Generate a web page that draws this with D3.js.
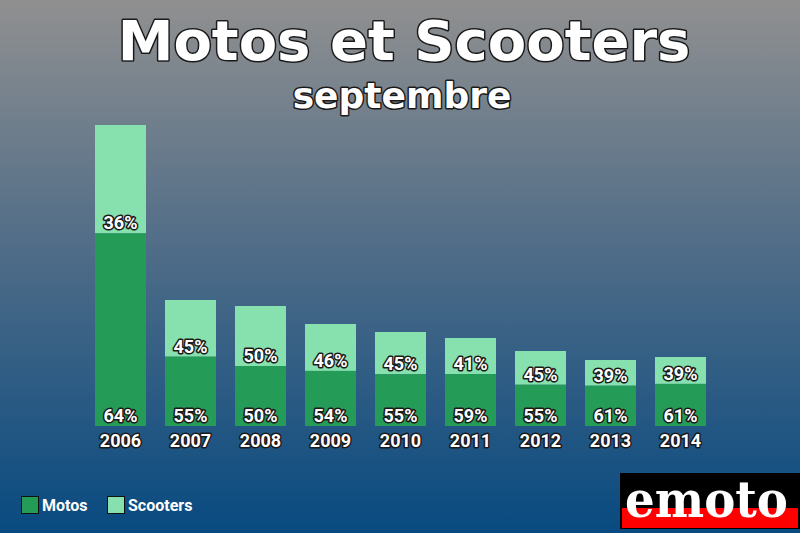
<!DOCTYPE html>
<html><head><meta charset="utf-8">
<script src="https://cdn.jsdelivr.net/npm/d3@7"></script>
<style>html,body{margin:0;padding:0;overflow:hidden;}</style>
</head><body>
<script>
const years = ["2006","2007","2008","2009","2010","2011","2012","2013","2014"];
const totals = [301, 126, 120, 102, 94, 88, 75, 66, 69];
const motosPct = [64, 55, 50, 54, 55, 59, 55, 61, 61];
const scootersPct = [36, 45, 50, 46, 45, 41, 45, 39, 39];
const seriesNames = ["Motos", "Scooters"];
const colors = ["#259b58", "#86e1ae"];

const W = 800, H = 533;
const svg = d3.select("body").append("svg").attr("width", W).attr("height", H);
const defs = svg.append("defs");
const grad = defs.append("linearGradient").attr("id","bg").attr("x1",0).attr("y1",0).attr("x2",0).attr("y2",1);
grad.append("stop").attr("offset","0%").attr("stop-color","#909090");
grad.append("stop").attr("offset","50%").attr("stop-color","#4b6a87");
grad.append("stop").attr("offset","100%").attr("stop-color","#084a80");
svg.append("rect").attr("width",W).attr("height",H).attr("fill","url(#bg)");

const x = d3.scaleBand().domain(years).range([95, 706]).paddingInner(0.2714).paddingOuter(0);
const y = d3.scaleLinear().domain([0, d3.max(totals)]).range([426, 125]);

const data = years.map((yr,i)=>{
  const m = totals[i]*motosPct[i]/100;
  return {yr, m, t: totals[i], mp: motosPct[i], sp: scootersPct[i]};
});

const g = svg.append("g");
g.selectAll(".sc").data(data).join("rect")
  .attr("x", d=>x(d.yr)).attr("width", x.bandwidth())
  .attr("y", d=>y(d.t)).attr("height", d=>y(d.m)-y(d.t))
  .attr("fill", colors[1]);
g.selectAll(".mo").data(data).join("rect")
  .attr("x", d=>x(d.yr)).attr("width", x.bandwidth())
  .attr("y", d=>y(d.m)).attr("height", d=>y(0)-y(d.m))
  .attr("fill", colors[0]);

function outlined(sel){
  return sel.attr("fill","#fff").attr("stroke","#1a1a1a").attr("stroke-width",3)
    .attr("paint-order","stroke").attr("stroke-linejoin","round");
}
const lblFont = "Roboto, sans-serif";
outlined(g.selectAll(".lm").data(data).join("text")
  .attr("x", d=>x(d.yr)+x.bandwidth()/2).attr("y", d=>y(0)-4)
  .attr("text-anchor","middle").attr("font-family",lblFont).attr("font-weight","bold")
  .attr("font-size",18).text(d=>d.mp+"%"));
outlined(g.selectAll(".ls").data(data).join("text")
  .attr("x", d=>x(d.yr)+x.bandwidth()/2).attr("y", d=>y(d.m)-4)
  .attr("text-anchor","middle").attr("font-family",lblFont).attr("font-weight","bold")
  .attr("font-size",18).text(d=>d.sp+"%"));

const xAxis = svg.append("g").attr("transform","translate(0,426)")
  .call(d3.axisBottom(x).tickSize(0).tickPadding(0));
xAxis.select(".domain").remove();
outlined(xAxis.selectAll("text").attr("dy",0).attr("y",21)
  .attr("font-family",lblFont).attr("font-weight","bold").attr("font-size",18));

outlined(svg.append("text").attr("x",404).attr("y",60).attr("text-anchor","middle")
  .attr("font-family","DejaVu Sans").attr("font-weight","bold").attr("font-size",56)
  .text("Motos et Scooters")).attr("stroke-width",3);
outlined(svg.append("text").attr("x",402).attr("y",108).attr("text-anchor","middle")
  .attr("font-family","DejaVu Sans").attr("font-weight","bold").attr("font-size",36)
  .text("septembre")).attr("stroke-width",3);

const leg = svg.append("g");
const legX = [21, 107];
seriesNames.forEach((n,i)=>{
  leg.append("rect").attr("x",legX[i]+0.5).attr("y",496.5).attr("width",17).attr("height",17)
    .attr("fill",colors[i]).attr("stroke","#111").attr("stroke-width",1);
  leg.append("text").attr("x",legX[i]+21).attr("y",511).attr("fill","#fff")
    .attr("font-family",lblFont).attr("font-weight","bold").attr("font-size",16)
    .text(n);
});

const logo = svg.append("g");
logo.append("rect").attr("x",620).attr("y",473).attr("width",180).attr("height",56).attr("fill","#000");
logo.append("rect").attr("x",622).attr("y",508).attr("width",176).attr("height",20).attr("fill","#ff0000");
logo.append("text").attr("x",625).attr("y",517)
  .attr("font-family","DejaVu Serif").attr("font-weight","bold").attr("font-size",50)
  .attr("textLength",163).attr("lengthAdjust","spacingAndGlyphs")
  .attr("fill","#fff").text("emoto");
</script>
</body></html>
